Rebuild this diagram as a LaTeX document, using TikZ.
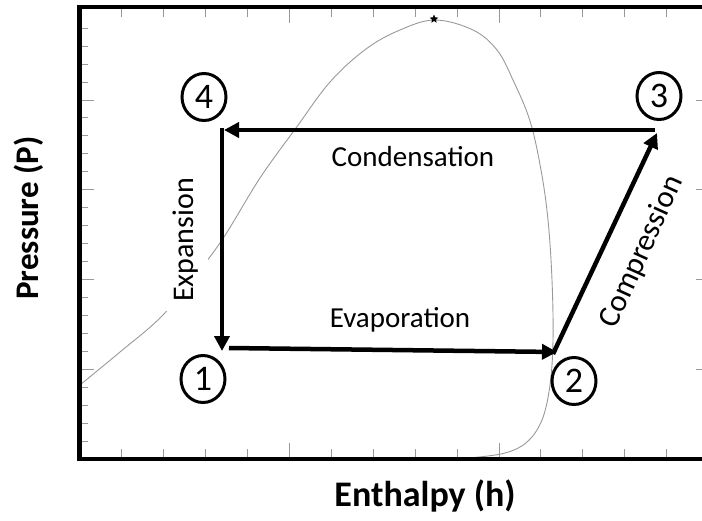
\documentclass[tikz,border=0pt]{standalone}
\usepackage{fontspec}
\setmainfont{Carlito}
\usetikzlibrary{arrows.meta,shapes.geometric}
\begin{document}
\begin{tikzpicture}[x=1pt,y=-1pt,
  frame/.style={line width=4.5pt,black},
  tick/.style={line width=1pt,gray!80},
  dome/.style={line width=0.9pt,gray!80},
  flow/.style={line width=4.5pt,black,-{Triangle[length=15pt,width=15pt]}},
  stateno/.style={ellipse,draw,line width=3pt,minimum width=44pt,minimum height=47pt,inner sep=0pt,font=\fontsize{36}{36}\selectfont},
  proc/.style={font=\fontsize{29}{31}\selectfont,inner sep=2pt},
  axlabel/.style={font=\fontsize{36}{38}\selectfont\bfseries}]
\useasboundingbox (0,0) rectangle (702,520);
\clip (0,0) rectangle (702,520);
% ticks
\foreach \k in {1,...,14}{
  \pgfmathsetmacro\len{mod(\k,5)==0 ? 14 : 8}
  \draw[tick] (80+41.9*\k,9) -- ++(0,\len);
  \draw[tick] (80+41.9*\k,457) -- ++(0,-\len);
}
\foreach \j in {1,...,24}{
  \pgfmathsetmacro\len{mod(\j,5)==0 ? 13 : 7}
  \draw[tick] (81,459-17.95*\j) -- ++(\len,0);
}
\foreach \j in {5,10,15,20}{
  \draw[tick] (705,459-17.95*\j) -- ++(-9,0);
}
% saturation dome
\draw[dome] plot[smooth,tension=0.6] coordinates {(80,385) (120,352) (160,318) (190,282) (222,240) (260,178) (296,128) (330,82) (366,49) (400,30) (435,20) (473,30) (497,50) (513,80) (530,121) (541,170) (548,220) (552,280) (553,340) (550,385) (542,420) (527,442) (505,453) (470,458) (450,460)};
\node[star,star points=5,star point ratio=2.2,fill=black,inner sep=0pt,minimum size=9pt] (crit) at (434,19) {};
% frame
\draw[frame] (702,7) -- (79.5,7) -- (79.5,459) -- (702,459);
% state points
\node[stateno] (s1) at (203,379) {1};
\node[stateno] (s2) at (574,381) {2};
\node[stateno] (s3) at (659,96) {3};
\node[stateno] (s4) at (204,97) {4};
% process corners
\coordinate (c3) at (655,130);
\coordinate (c4) at (224,130);
\coordinate (c4t) at (222,127.75);
\coordinate (c1) at (222,351);
\coordinate (c1r) at (229,348);
\coordinate (c2) at (557,352);
\coordinate (c2b) at (553,354);
\coordinate (c3b) at (657,133);
% process arrows
\draw[flow] (c3) -- (c4);
\draw[flow] (c4t) -- (c1);
\draw[flow] (c1r) -- (c2);
\draw[flow] (c2b) -- (c3b);
% labels
\node[proc] (lc) at (413,157) {Condensation};
\node[proc] (le) at (400,320) {Evaporation};
\node[proc,rotate=90,fill=white,inner sep=9pt,font=\fontsize{30}{32}\selectfont] (lx) at (186,240) {Expansion};
\node[proc,rotate=65.5,font=\fontsize{31}{33}\selectfont] (lp) at (642,252) {Compression};
\node[axlabel] (xl) at (425,496) {Enthalpy (h)};
\node[axlabel,rotate=90,font=\fontsize{33}{35}\selectfont\bfseries] (yl) at (29,218) {Pressure (P)};
\end{tikzpicture}
\end{document}
